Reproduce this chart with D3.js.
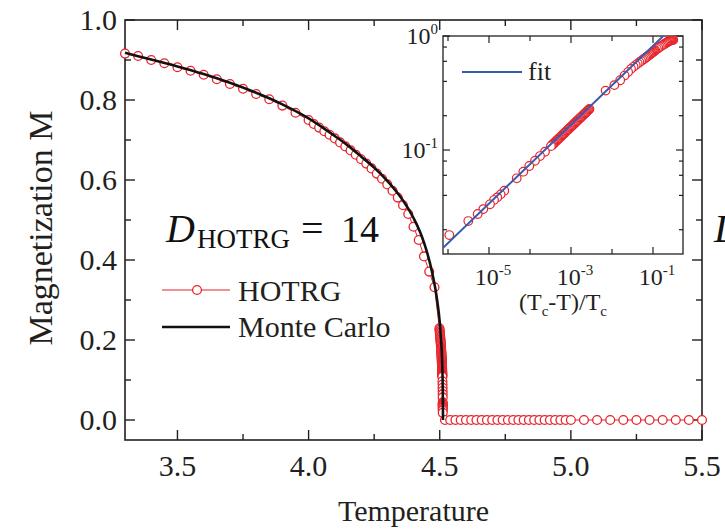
<!DOCTYPE html>
<html><head><meta charset="utf-8">
<script src="https://cdn.jsdelivr.net/npm/d3@7"></script>
<style>html,body{margin:0;padding:0;background:#fff;overflow:hidden}</style>
</head><body>
<svg id="c" width="725" height="529"></svg>
<script>
// ---------------- data ----------------
const Tc = 4.5115;
// HOTRG coarse points (T < Tc)
const hotrgT = [3.10,3.15,3.20,3.25,3.30,3.35,3.40,3.45,3.50,3.55,3.60,3.65,3.70,3.75,3.80,3.85,3.90,3.95,
  4.00,4.02,4.04,4.06,4.08,4.10,4.12,4.14,4.16,4.18,4.20,4.22,4.24,4.26,4.28,4.30,4.32,4.34,4.36,4.38,4.40,4.42,4.44,4.46,4.48];
const hotrgM = [0.925,0.923,0.921,0.919,0.916,0.910,0.900,0.892,0.882,0.873,0.863,0.852,0.840,0.828,0.815,0.802,0.786,0.768,
  0.750,0.740,0.731,0.722,0.713,0.704,0.694,0.684,0.674,0.663,0.652,0.641,0.629,0.616,0.603,0.589,0.573,0.556,0.537,0.515,0.483,0.450,0.409,0.371,0.332];
// HOTRG points very close to Tc:
// log10 of reduced temperature (Tc-T)/Tc and log10 of M
const critLogT = [-5.968,-5.505,-5.276,-5.139,-4.976,-4.878,-4.798,-4.715,-4.627,-4.324,-4.163,-4.017,-3.878,-3.756,-3.634,
  -3.49,-3.47,-3.45,-3.43,-3.41,-3.39,-3.37,-3.35,-3.33,-3.31,-3.29,-3.27,-3.25,-3.23,-3.21,-3.19,-3.17,-3.15,-3.13,-3.11,
  -3.09,-3.07,-3.05,-3.03,-3.01,-2.99,-2.97,-2.95,-2.93,-2.91,-2.89,-2.87,-2.85,-2.83,-2.81,-2.79,-2.77,-2.75,-2.73,-2.71,
  -2.69,-2.67,-2.65,-2.63,-2.61,-2.59,-2.57,-2.55];
const critLogM = [-1.746,-1.623,-1.561,-1.518,-1.476,-1.439,-1.415,-1.389,-1.357,-1.248,-1.190,-1.140,-1.094,-1.053,-1.015,
  -0.966,-0.959,-0.952,-0.945,-0.938,-0.931,-0.924,-0.917,-0.910,-0.903,-0.896,-0.889,-0.883,-0.876,-0.869,-0.862,-0.855,-0.848,-0.841,-0.834,
  -0.827,-0.820,-0.813,-0.806,-0.799,-0.793,-0.786,-0.779,-0.772,-0.765,-0.758,-0.751,-0.744,-0.737,-0.730,-0.723,-0.716,-0.710,-0.703,-0.696,
  -0.689,-0.682,-0.675,-0.668,-0.661,-0.654,-0.647,-0.640];
// HOTRG points above Tc
const aboveT = [4.52,4.54,4.56,4.58,4.60,4.62,4.64,4.66,4.68,4.70,4.72,4.74,4.76,4.78,4.80,4.82,4.84,4.86,4.88,4.90,4.92,4.94,4.96,4.98,5.00,
  5.05,5.10,5.15,5.20,5.25,5.30,5.35,5.40,5.45,5.50];
const aboveM = [0,0,0,0,0,0,0,0,0,0,0,0,0,0,0,0,0,0,0,0,0,0,0,0,0, 0,0,0,0,0,0,0,0,0,0];
// Monte Carlo curve
const mcT = [3.30,3.40,3.50,3.60,3.70,3.80,3.90,4.00,4.05,4.10,4.15,4.20,4.25,4.30,4.35,4.40,4.43,4.45,4.47,4.49,4.50,4.505,4.509,4.511,4.512,4.5125];
const mcM = [0.918,0.901,0.884,0.865,0.843,0.818,0.789,0.754,0.733,0.710,0.686,0.659,0.631,0.598,0.558,0.505,0.462,0.423,0.372,0.300,0.245,0.200,0.150,0.100,0.050,0.0];
// power-law fit in the inset (end points)
const fitT = [7.6e-7, 0.178];
const fitM = [0.0139, 1.0];

const xTicks = [3.5,4.0,4.5,5.0,5.5];
const xMinor = [3.75,4.25,4.75,5.25];
const yTicks = [0.0,0.2,0.4,0.6,0.8,1.0];
const yMinor = [0.1,0.3,0.5,0.7,0.9];
const insetXTicks = [1e-5,1e-3,1e-1];
const insetXMinor = [1e-6,1e-4,1e-2];
const insetYTicks = [1e-1,1];
const insetYMinor = [0.02,0.04,0.06,0.08,0.2,0.4,0.6,0.8];

// ---------------- drawing ----------------
const svg = d3.select('#c');
const SERIF = '"Liberation Serif","Times New Roman",serif';
const RED = '#e8232b', BLUE = '#3a5aad', FRAME = '#231f20';

const L = 125, R = 702, T = 20, B = 440;
const x = d3.scaleLinear().domain([3.3,5.5]).range([L,R]);
const y = d3.scaleLinear().domain([-0.05,1.0]).range([B,T]);

const crit = critLogT.map((v,i)=>[Math.pow(10,v), Math.pow(10,critLogM[i])]);
const critByT = crit.slice().sort((a,b)=>b[0]-a[0]);   // increasing temperature

// combined HOTRG main data ordered by T
const mainData = [];
hotrgT.forEach((t,i)=>{ if (t >= 3.3 - 1e-9) mainData.push([t,hotrgM[i]]); });
critByT.forEach(d=> mainData.push([Tc*(1-d[0]), d[1]]));
aboveT.forEach((t,i)=> mainData.push([t, aboveM[i]]));

// frame
svg.append('rect').attr('x',L).attr('y',T).attr('width',R-L).attr('height',B-T)
  .attr('fill','none').attr('stroke',FRAME).attr('stroke-width',1.6);

const gT = svg.append('g');
function tickX(v,len){
  gT.append('line').attr('x1',x(v)).attr('x2',x(v)).attr('y1',B).attr('y2',B-len).attr('stroke',FRAME).attr('stroke-width',1.4);
  gT.append('line').attr('x1',x(v)).attr('x2',x(v)).attr('y1',T).attr('y2',T+len).attr('stroke',FRAME).attr('stroke-width',1.4);
}
function tickY(v,len){
  gT.append('line').attr('y1',y(v)).attr('y2',y(v)).attr('x1',L).attr('x2',L+len).attr('stroke',FRAME).attr('stroke-width',1.4);
  gT.append('line').attr('y1',y(v)).attr('y2',y(v)).attr('x1',R).attr('x2',R-len).attr('stroke',FRAME).attr('stroke-width',1.4);
}
xTicks.forEach(v=>tickX(v,10)); xMinor.forEach(v=>tickX(v,6));
yTicks.forEach(v=>tickY(v,10)); yMinor.forEach(v=>tickY(v,6));

const fmt = d3.format('.1f');
xTicks.forEach(v=> svg.append('text').attr('x',x(v)).attr('y',476).attr('text-anchor','middle')
  .attr('font-family',SERIF).attr('font-size',30).attr('fill','#231f20').text(fmt(v)));
yTicks.forEach(v=> svg.append('text').attr('x',117).attr('y',y(v)+10).attr('text-anchor','end')
  .attr('font-family',SERIF).attr('font-size',30).attr('fill','#231f20').text(fmt(v)));

svg.append('text').attr('x',(L+R)/2).attr('y',521).attr('text-anchor','middle')
  .attr('font-family',SERIF).attr('font-size',30).attr('fill','#231f20').text('Temperature');
svg.append('text').attr('transform',`translate(52,228) rotate(-90)`).attr('text-anchor','middle')
  .attr('font-family',SERIF).attr('font-size',34).attr('fill','#231f20').text('Magnetization M');

// HOTRG line + markers
const line = d3.line().x(d=>x(d[0])).y(d=>y(d[1]));
svg.append('path').datum(mainData).attr('d',line).attr('fill','none').attr('stroke',RED).attr('stroke-width',1);
svg.append('g').selectAll('circle').data(mainData).join('circle')
  .attr('cx',d=>x(d[0])).attr('cy',d=>y(d[1])).attr('r',4.4)
  .attr('fill','#fff').attr('stroke',RED).attr('stroke-width',1.3);
// Monte Carlo
svg.append('path').datum(mcT.map((t,i)=>[t,mcM[i]])).attr('d',d3.line().x(d=>x(d[0])).y(d=>y(d[1])).curve(d3.curveMonotoneX))
  .attr('fill','none').attr('stroke','#111').attr('stroke-width',2.6);

// legend
svg.append('line').attr('x1',162).attr('x2',230).attr('y1',290).attr('y2',290).attr('stroke',RED).attr('stroke-width',1.2);
svg.append('circle').attr('cx',197).attr('cy',290).attr('r',4.4).attr('fill','#fff').attr('stroke',RED).attr('stroke-width',1.3);
svg.append('text').attr('x',238).attr('y',301).attr('font-family',SERIF).attr('font-size',30).attr('fill','#231f20').text('HOTRG');
svg.append('line').attr('x1',162).attr('x2',230).attr('y1',327).attr('y2',327).attr('stroke','#111').attr('stroke-width',2.4);
svg.append('text').attr('x',238).attr('y',337).attr('font-family',SERIF).attr('font-size',30).attr('fill','#231f20').text('Monte Carlo');

// D_HOTRG = 14 label
svg.append('text').attr('x',166).attr('y',242).attr('font-family',SERIF).attr('font-style','italic').attr('font-size',40).attr('fill','#111').text('D');
svg.append('text').attr('x',197).attr('y',248).attr('font-family',SERIF).attr('font-size',27).attr('fill','#111').text('HOTRG');
svg.append('text').attr('x',301).attr('y',242).attr('font-family',SERIF).attr('font-size',40).attr('fill','#111').text('=');
svg.append('text').attr('x',341).attr('y',242).attr('font-family',SERIF).attr('font-size',38).attr('fill','#111').text('14');
// partial label of the neighbouring panel (cut by the image edge, as in the source)
svg.append('text').attr('x',714).attr('y',242).attr('font-family',SERIF).attr('font-style','italic').attr('font-size',40).attr('fill','#111').text('D');

// ---------------- inset ----------------
const iL = 443, iR = 683, iT = 36, iB = 254;
const ix = d3.scaleLog().domain([Math.pow(10,-6.122), Math.pow(10,-0.268)]).range([iL,iR]);
const iy = d3.scaleLog().domain([Math.pow(10,-1.912), 1]).range([iB,iT]);
svg.append('rect').attr('x',iL).attr('y',iT).attr('width',iR-iL).attr('height',iB-iT)
  .attr('fill','#fff').attr('stroke',FRAME).attr('stroke-width',1.3);
function itx(v,len){
  svg.append('line').attr('x1',ix(v)).attr('x2',ix(v)).attr('y1',iB).attr('y2',iB-len).attr('stroke',FRAME).attr('stroke-width',1.2);
  svg.append('line').attr('x1',ix(v)).attr('x2',ix(v)).attr('y1',iT).attr('y2',iT+len).attr('stroke',FRAME).attr('stroke-width',1.2);
}
function ity(v,len){
  svg.append('line').attr('y1',iy(v)).attr('y2',iy(v)).attr('x1',iL).attr('x2',iL+len).attr('stroke',FRAME).attr('stroke-width',1.2);
  svg.append('line').attr('y1',iy(v)).attr('y2',iy(v)).attr('x1',iR).attr('x2',iR-len).attr('stroke',FRAME).attr('stroke-width',1.2);
}
insetXTicks.forEach(v=>itx(v,7)); insetXMinor.forEach(v=>itx(v,5));
insetYTicks.forEach(v=>ity(v,7)); insetYMinor.forEach(v=>ity(v,4));

insetXTicks.forEach(v=>{
  const e = Math.round(Math.log10(v));
  const t = svg.append('text').attr('x',ix(v)+4).attr('y',285).attr('text-anchor','middle')
    .attr('font-family',SERIF).attr('font-size',24).attr('fill','#231f20');
  t.append('tspan').text('10');
  t.append('tspan').attr('dy',-10).attr('font-size',15).text(String(e));
});
insetYTicks.forEach(v=>{
  const e = Math.round(Math.log10(v));
  const t = svg.append('text').attr('x',iL-5).attr('y',iy(v)+8).attr('text-anchor','end')
    .attr('font-family',SERIF).attr('font-size',24).attr('fill','#231f20');
  t.append('tspan').text('10');
  t.append('tspan').attr('dy',-10).attr('font-size',15).text(String(e));
});
const xt = svg.append('text').attr('x',563).attr('y',310).attr('text-anchor','middle')
  .attr('font-family',SERIF).attr('font-size',24).attr('fill','#231f20');
xt.append('tspan').text('(T');
xt.append('tspan').attr('dy',6).attr('font-size',15).text('c');
xt.append('tspan').attr('dy',-6).text('-T)/T');
xt.append('tspan').attr('dy',6).attr('font-size',15).text('c');

// inset data: coarse HOTRG points and near-critical points
const insetData = [];
hotrgT.forEach((t,i)=> insetData.push([(Tc-t)/Tc, hotrgM[i]]));
critByT.forEach(d=> insetData.push(d));
svg.append('defs').append('clipPath').attr('id','ic').append('rect').attr('x',iL).attr('y',iT).attr('width',iR-iL).attr('height',iB-iT);
const ig = svg.append('g').attr('clip-path','url(#ic)');
ig.selectAll('circle').data(insetData).join('circle')
  .attr('cx',d=>ix(d[0])).attr('cy',d=>iy(d[1])).attr('r',4.3)
  .attr('fill','#fff').attr('stroke',RED).attr('stroke-width',1.2);
ig.append('path').datum(fitT.map((t,i)=>[t,fitM[i]])).attr('d',d3.line().x(d=>ix(d[0])).y(d=>iy(d[1])))
  .attr('stroke',BLUE).attr('stroke-width',2).attr('fill','none');
// inset legend
svg.append('line').attr('x1',462).attr('x2',522).attr('y1',72).attr('y2',72).attr('stroke',BLUE).attr('stroke-width',2);
svg.append('text').attr('x',528).attr('y',80).attr('font-family',SERIF).attr('font-size',26).attr('fill','#231f20').text('fit');
</script>
</body></html>
